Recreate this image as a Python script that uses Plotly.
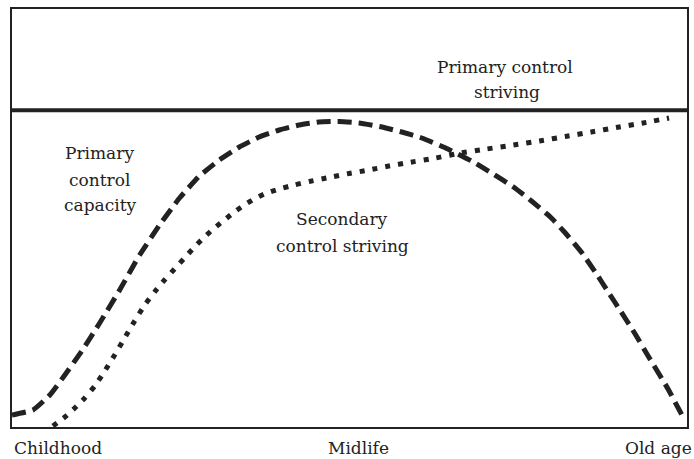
import plotly.graph_objects as go

# Abstract scale: x = life course position 0..100, y = level 0..100
capacity_x = [0, 3.10, 5.61, 7.83, 10.34, 12.99, 15.95, 18.91, 21.86, 24.82, 27.77, 30.72, 33.68,
              36.63, 39.59, 42.54, 45.49, 48.45, 51.40, 54.80, 57.75, 60.71, 64.25, 68.09, 71.05,
              74.30, 76.96, 79.76, 81.98, 84.34, 86.41, 88.33, 90.25, 92.32, 94.24, 97.19, 99.56]
capacity_y = [2.87, 4.07, 7.66, 12.44, 18.18, 24.88, 32.78, 41.15, 48.33, 54.78, 60.05, 63.88, 66.99,
              69.38, 71.05, 72.25, 72.97, 73.09, 72.73, 71.77, 70.57, 69.14, 66.75, 63.64, 60.77,
              57.42, 54.07, 50.24, 46.41, 41.87, 37.08, 32.30, 27.51, 22.25, 16.99, 9.09, 1.91]

secondary_x = [6.06, 7.83, 9.31, 10.78, 12.26, 13.74, 15.21, 16.69, 18.17, 19.65, 21.12, 22.60,
               24.08, 25.55, 27.03, 28.51, 29.99, 31.46, 32.94, 34.42, 35.89, 37.37, 39.59,
               41.80, 44.02, 46.97, 49.93, 52.88, 55.83, 58.79, 62.78, 66.47, 70.31, 74.30,
               78.14, 81.98, 85.82, 89.51, 93.50, 97.34]
secondary_y = [0.24, 2.39, 4.55, 6.94, 9.81, 13.40, 17.22, 21.29, 25.36, 29.19, 32.30, 35.17,
               37.80, 40.43, 43.06, 45.45, 47.61, 49.52, 51.44, 53.11, 54.55, 55.74, 56.94,
               57.89, 58.73, 59.69, 60.65, 61.48, 62.44, 63.28, 64.35, 65.55, 66.51, 67.46,
               68.42, 69.50, 70.57, 71.65, 72.73, 73.92]

striving_x = [0, 100]
striving_y = [75.8, 75.8]

x_labels = ["Childhood", "Midlife", "Old age"]

INK = "#222222"
FONT = dict(family="DejaVu Serif", size=17, color=INK)

fig = go.Figure()
fig.add_trace(go.Scatter(x=striving_x, y=striving_y, mode="lines",
                         line=dict(color=INK, width=4), cliponaxis=False))
fig.add_trace(go.Scatter(x=capacity_x, y=capacity_y, mode="lines",
                         line=dict(color=INK, width=5, dash="14px,7px", shape="spline", smoothing=0.4)))
fig.add_trace(go.Scatter(x=secondary_x, y=secondary_y, mode="lines",
                         line=dict(color=INK, width=5, dash="5px,8px", shape="spline", smoothing=0.4)))

ann = [
    ("Primary control", 73.1, 86.1, "center"),
    ("striving", 73.3, 80.1, "center"),
    ("Primary", 13.0, 65.6, "center"),
    ("control", 13.0, 59.2, "center"),
    ("capacity", 13.0, 53.0, "center"),
    ("Secondary", 48.9, 49.8, "center"),
    ("control striving", 48.9, 43.3, "center"),
]
for text, x, y, xa in ann:
    fig.add_annotation(x=x, y=y, xref="x", yref="y", text=text, showarrow=False,
                       xanchor=xa, yanchor="middle", font=FONT)

bottom = [(x_labels[0], 0.0, "left"), (x_labels[1], 0.513, "center"), (x_labels[2], 1.01, "right")]
for text, x, xa in bottom:
    fig.add_annotation(x=x, y=-0.05, xref="paper", yref="paper", text=text, showarrow=False,
                       xanchor=xa, yanchor="middle", font=FONT)

fig.update_layout(
    width=694, height=459,
    margin=dict(l=12, r=5, t=9, b=32),
    paper_bgcolor="white", plot_bgcolor="white",
    showlegend=False,
    xaxis=dict(range=[0, 100], showgrid=False, zeroline=False, showticklabels=False,
               ticks="", showline=True, linecolor=INK, linewidth=2, mirror=True, fixedrange=True),
    yaxis=dict(range=[0, 100], showgrid=False, zeroline=False, showticklabels=False,
               ticks="", showline=True, linecolor=INK, linewidth=2, mirror=True, fixedrange=True),
)

fig.write_html("out.html", config={"displayModeBar": False},
               post_script="document.body.style.margin='0';document.body.style.overflow='hidden';")
